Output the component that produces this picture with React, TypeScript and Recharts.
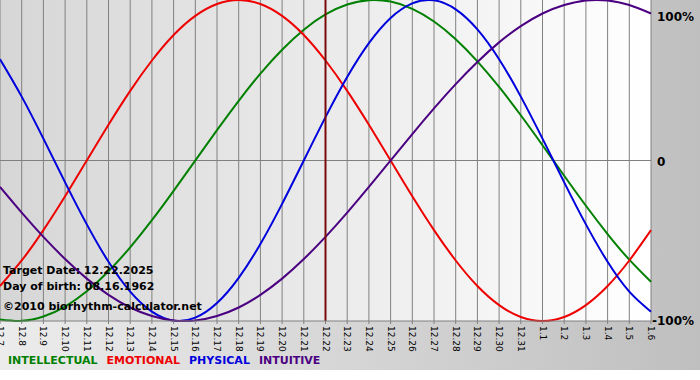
import React from "react";
import { LineChart, Line, XAxis, YAxis, CartesianGrid, ReferenceLine } from "recharts";

const days = [
  "12.7", "12.8", "12.9", "12.10", "12.11", "12.12", "12.13", "12.14", "12.15", "12.16",
  "12.17", "12.18", "12.19", "12.20", "12.21", "12.22", "12.23", "12.24", "12.25", "12.26",
  "12.27", "12.28", "12.29", "12.30", "12.31", "1.1", "1.2", "1.3", "1.4", "1.5", "1.6",
];

const physical = [
  0.631, 0.398, 0.136, -0.136, -0.398, -0.631, -0.817, -0.942, -0.998, -0.979,
  -0.888, -0.731, -0.52, -0.27, 0, 0.27, 0.52, 0.731, 0.888, 0.979,
  0.998, 0.942, 0.817, 0.631, 0.398, 0.136, -0.136, -0.398, -0.631, -0.817, -0.942,
];
const emotional = [
  -0.782, -0.623, -0.434, -0.223, 0, 0.223, 0.434, 0.623, 0.782, 0.901,
  0.975, 1.0, 0.975, 0.901, 0.782, 0.623, 0.434, 0.223, 0, -0.223,
  -0.434, -0.623, -0.782, -0.901, -0.975, -1.0, -0.975, -0.901, -0.782, -0.623, -0.434,
];
const intellectual = [
  -0.99, -0.999, -0.972, -0.91, -0.815, -0.69, -0.541, -0.372, -0.189, 0,
  0.189, 0.372, 0.541, 0.69, 0.815, 0.91, 0.972, 0.999, 0.99, 0.945,
  0.866, 0.756, 0.618, 0.458, 0.282, 0.095, -0.095, -0.282, -0.458, -0.618, -0.756,
];
const intuitive = [
  -0.165, -0.325, -0.476, -0.614, -0.736, -0.837, -0.916, -0.969, -0.997, -0.997,
  -0.969, -0.916, -0.837, -0.736, -0.614, -0.476, -0.325, -0.165, 0, 0.165,
  0.325, 0.476, 0.614, 0.736, 0.837, 0.916, 0.969, 0.997, 0.997, 0.969, 0.916,
];

const targetIndex = 15;
const yTicks = [-1, 0, 1];
const yLabels: Record<string, string> = { "1": "100%", "0": "0", "-1": "-100%" };

const series = [
  { key: "intellectual", name: "INTELLECTUAL", color: "#008000" },
  { key: "emotional", name: "EMOTIONAL", color: "#ee0000" },
  { key: "physical", name: "PHYSICAL", color: "#0000dd" },
  { key: "intuitive", name: "INTUITIVE", color: "#4b0082" },
];

const data = days.map((day, i) => ({
  i,
  day,
  physical: physical[i],
  emotional: emotional[i],
  intellectual: intellectual[i],
  intuitive: intuitive[i],
}));

const font = "'DejaVu Sans', Verdana, sans-serif";

const DayTick = (props: any) => {
  const { x, y, payload } = props;
  return (
    <text
      x={0}
      y={0}
      transform={`translate(${x},${y}) rotate(90)`}
      textAnchor="start"
      dominantBaseline="central"
      fontFamily={font}
      fontSize={9}
      fill="#000"
    >
      {days[payload.value]}
    </text>
  );
};

const PctTick = (props: any) => {
  const { y, payload } = props;
  const v = payload.value;
  const dy = v === 1 ? 8 : v === 0 ? 1 : 0;
  const x = v === -1 ? 652 : 657;
  return (
    <text x={x} y={y + dy} dominantBaseline="central" fontFamily={font} fontWeight="bold" fontSize={12} fill="#000">
      {yLabels[String(v)]}
    </text>
  );
};

const infoStyle: React.CSSProperties = {
  position: "absolute",
  left: 3,
  fontFamily: font,
  fontWeight: "bold",
  fontSize: 11,
  lineHeight: "13px",
  color: "#000",
  whiteSpace: "nowrap",
};

export default function App() {
  return (
    <div style={{ position: "absolute", left: 0, top: 0, width: 700, height: 380, background: "#fff" }}>
      <svg width={0} height={0} style={{ position: "absolute" }}>
        <defs>
          <linearGradient id="plotBg" x1="0" y1="0" x2="1" y2="0">
            <stop offset="0%" stopColor="#d6d6d6" />
            <stop offset="100%" stopColor="#ffffff" />
          </linearGradient>
        </defs>
      </svg>
      <div
        style={{
          position: "absolute",
          left: 0,
          top: 0,
          width: 700,
          height: 370,
          background: "linear-gradient(to right, #ececec, #bfbfbf)",
        }}
      >
        <LineChart width={700} height={370} data={data} margin={{ top: 0, right: 0, left: 0, bottom: 0 }}>
          <CartesianGrid horizontal={false} stroke="#808080" fill="url(#plotBg)" fillOpacity={1} />
          <XAxis
            type="number"
            dataKey="i"
            domain={[0, 30]}
            ticks={days.map((_, i) => i)}
            interval={0}
            height={49}
            stroke="#808080"
            tickSize={3}
            tick={<DayTick />}
          />
          <YAxis
            orientation="right"
            domain={[-1, 1]}
            ticks={yTicks}
            width={49}
            axisLine={false}
            tickLine={false}
            tick={<PctTick />}
          />
          <ReferenceLine y={0} stroke="#808080" />
          {series.map((s) => (
            <Line
              key={s.key}
              type="natural"
              dataKey={s.key}
              stroke={s.color}
              strokeWidth={2}
              dot={false}
              activeDot={false}
              isAnimationActive={false}
            />
          ))}
          <ReferenceLine x={targetIndex} stroke="#7a0a0a" strokeWidth={2} />
        </LineChart>
      </div>
      <div style={{ ...infoStyle, top: 264 }}>Target Date: 12.22.2025</div>
      <div style={{ ...infoStyle, top: 280 }}>Day of birth: 08.16.1962</div>
      <div style={{ ...infoStyle, top: 300 }}>©2010 biorhythm-calculator.net</div>
      <div
        style={{
          position: "absolute",
          left: 8,
          top: 354,
          display: "flex",
          fontFamily: font,
          fontWeight: "bold",
          fontSize: 11,
          lineHeight: "14px",
          whiteSpace: "nowrap",
        }}
      >
        {series.map((s) => (
          <span key={s.key} style={{ color: s.color, marginRight: 9 }}>
            {s.name}
          </span>
        ))}
      </div>
    </div>
  );
}
